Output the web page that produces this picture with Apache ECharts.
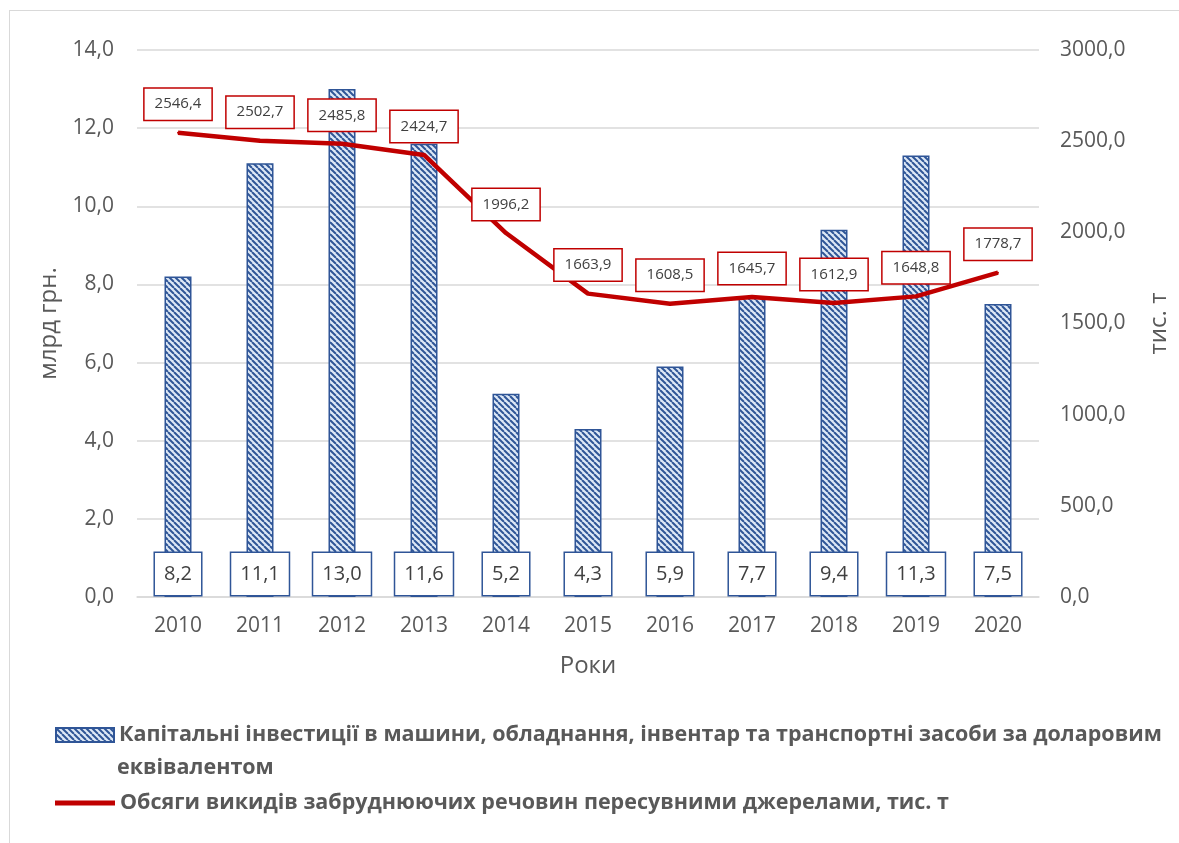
<!DOCTYPE html>
<html>
<head>
<meta charset="utf-8">
<script src="https://cdn.jsdelivr.net/npm/echarts@6/dist/echarts.min.js"></script>
<style>
  html, body { margin: 0; padding: 0; background: #fff; }
  #frame {
    position: absolute; left: 9px; top: 10px; width: 1180px; height: 840px;
    border-left: 1px solid #d9d9d9; border-top: 1px solid #d9d9d9;
  }
  #chart { width: 1179px; height: 843px; }
</style>
</head>
<body>
<div id="frame"></div>
<div id="chart"></div>
<script>
var years = ["2010", "2011", "2012", "2013", "2014", "2015", "2016", "2017", "2018", "2019", "2020"];
var investments = [8.2, 11.1, 13.0, 11.6, 5.2, 4.3, 5.9, 7.7, 9.4, 11.3, 7.5];
var emissions = [2546.4, 2502.7, 2485.8, 2424.7, 1996.2, 1663.9, 1608.5, 1645.7, 1612.9, 1648.8, 1778.7];
var leftTicks = { min: 0, max: 14, step: 2 };
var rightTicks = { min: 0, max: 3000, step: 500 };

var barName = "Капітальні інвестиції в машини, обладнання, інвентар та транспортні засоби за доларовим еквівалентом";
var lineName = "Обсяги викидів забруднюючих речовин пересувними джерелами, тис. т";

function comma(v) {
  return Number(v).toFixed(1).replace(".", ",");
}

// hatch pattern for the bars
function makeHatch() {
  var s = 6;
  var c = document.createElement("canvas");
  c.width = s; c.height = s;
  var ctx = c.getContext("2d");
  ctx.fillStyle = "#dde8f6";
  ctx.fillRect(0, 0, s, s);
  ctx.strokeStyle = "#2f5597";
  ctx.lineWidth = 2;
  [-s, 0, s].forEach(function (k) {
    ctx.beginPath();
    ctx.moveTo(k, 0);
    ctx.lineTo(k + s, s);
    ctx.stroke();
  });
  return c;
}

var font = "Open Sans, Noto Sans, sans-serif";
var grey = "#595959";
var legendText = { color: grey, fontSize: 21.5, fontWeight: "bold", width: 1100, overflow: "none" };

// last label is pushed to the right in the original
var lineData = emissions.map(function (v, i) {
  if (i === emissions.length - 1) {
    return { value: v, label: { offset: [13, 0] } };
  }
  return v;
});

var chart = echarts.init(document.getElementById("chart"));
chart.setOption({
  animation: false,
  textStyle: { fontFamily: font },
  grid: { left: 137, right: 138, top: 50, bottom: 246 },
  legend: [
    {
      left: 50,
      top: 719,
      icon: "rect",
      itemWidth: 58,
      itemHeight: 14,
      data: [barName],
      formatter: function (n) { return n.replace(" еквівалентом", ""); },
      textStyle: legendText
    },
    {
      left: 50,
      top: 787,
      icon: "rect",
      itemWidth: 60,
      itemHeight: 5,
      data: [lineName],
      textStyle: legendText
    }
  ],
  graphic: [
    {
      type: "text",
      left: 117,
      top: 757,
      style: {
        text: "еквівалентом",
        fill: grey,
        font: "bold 21.5px " + font
      }
    }
  ],
  xAxis: {
    type: "category",
    data: years,
    name: "Роки",
    nameLocation: "middle",
    nameGap: 57,
    nameTextStyle: { color: grey, fontSize: 24 },
    axisLine: { lineStyle: { color: "#d9d9d9", width: 1.5 } },
    axisTick: { show: false },
    axisLabel: { color: grey, fontSize: 21, margin: 19 }
  },
  yAxis: [
    {
      type: "value",
      min: leftTicks.min,
      max: leftTicks.max,
      interval: leftTicks.step,
      name: "млрд грн.",
      nameLocation: "middle",
      nameGap: 76,
      nameTextStyle: { color: grey, fontSize: 24 },
      axisLabel: { color: grey, fontSize: 21, margin: 23, formatter: comma },
      splitLine: { lineStyle: { color: "#d9d9d9", width: 1.5 } }
    },
    {
      type: "value",
      min: rightTicks.min,
      max: rightTicks.max,
      interval: rightTicks.step,
      name: "тис. т",
      nameLocation: "middle",
      nameGap: 108,
      nameTextStyle: { color: grey, fontSize: 24 },
      axisLabel: { color: grey, fontSize: 21, margin: 21, formatter: comma },
      splitLine: { show: false }
    }
  ],
  series: [
    {
      name: barName,
      type: "bar",
      data: investments,
      barWidth: 27,
      itemStyle: {
        color: { image: makeHatch(), repeat: "repeat" },
        borderColor: "#2f5597",
        borderWidth: 1.5
      },
      label: {
        show: true,
        position: "insideBottom",
        distance: 2,
        formatter: function (p) { return comma(p.value); },
        color: "#404040",
        fontSize: 20,
        backgroundColor: "#fff",
        borderColor: "#2f5597",
        borderWidth: 1.5,
        padding: [11, 9, 11, 9]
      }
    },
    {
      name: lineName,
      type: "line",
      yAxisIndex: 1,
      data: lineData,
      symbol: "circle",
      symbolSize: 2,
      showSymbol: true,
      lineStyle: { color: "#c00000", width: 4.5 },
      itemStyle: { color: "#c00000" },
      labelLayout: { moveOverlap: false },
      label: {
        show: true,
        position: "top",
        distance: 12,
        formatter: function (p) { return comma(p.value); },
        color: "#404040",
        fontSize: 15,
        backgroundColor: "#fff",
        borderColor: "#c00000",
        borderWidth: 1.5,
        padding: [8, 10, 8, 10]
      }
    }
  ]
});
</script>
</body>
</html>
